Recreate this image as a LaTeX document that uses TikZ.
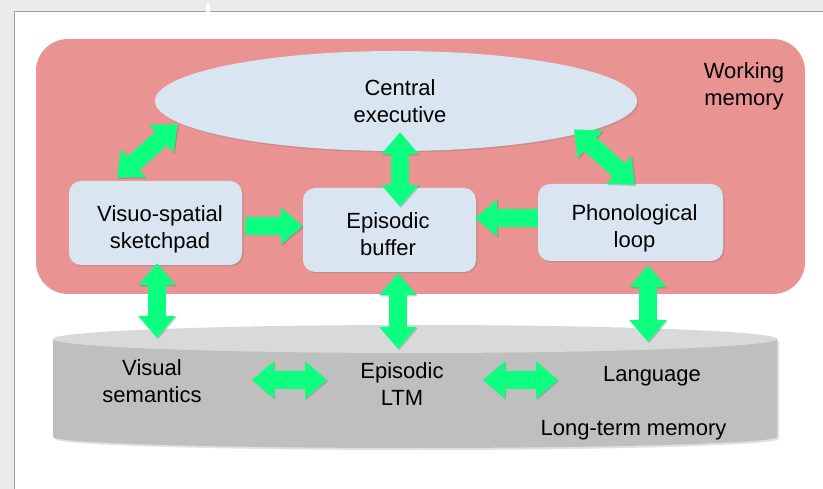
\documentclass[tikz,border=0pt]{standalone}
\usepackage{fontspec}
\setmainfont{Liberation Sans}
\usetikzlibrary{arrows.meta,shadows,shapes.geometric}

\definecolor{wmred}{HTML}{E99393}
\definecolor{boxblue}{HTML}{DAE5F2}
\definecolor{ltmtop}{HTML}{D9D9D9}
\definecolor{ltmside}{HTML}{BFBFBF}
\definecolor{linkgreen}{HTML}{0DFF80}
\definecolor{frameline}{HTML}{A0A0A0}
\definecolor{desk}{HTML}{EBEBEB}

\begin{document}
\begin{tikzpicture}[x=1pt,y=-1pt,
  every node/.style={font=\fontsize{22}{27}\selectfont, align=center, text=black},
  comp/.style={fill=boxblue, rounded corners=12pt, inner sep=0pt,
    drop shadow={shadow xshift=1.5pt, shadow yshift=-1.5pt, opacity=0.35}},
  softshadow/.style={preaction={draw=black!70, opacity=0.25,
    transform canvas={shift={(1.2pt,-1.2pt)}}}},
  link/.style={draw=linkgreen, line width=18pt, softshadow,
    {Triangle[width=36pt,length=22pt]}-{Triangle[width=36pt,length=22pt]}},
  feed/.style={draw=linkgreen, line width=18pt, softshadow,
    -{Triangle[width=36pt,length=22pt]}},
]
\useasboundingbox (0,0) rectangle (823,489);

% page on the desk
\fill[desk] (0,0) rectangle (823,489);
\fill[white] (14,12) rectangle (823,489);
\draw[frameline, line width=1pt] (14,489) -- (14,12) -- (823,12);
\fill[white] (206,4) rectangle (210,12);

% working memory panel
\node[fill=wmred, rounded corners=32pt, minimum width=769pt, minimum height=255pt,
      inner sep=0pt] (wm) at (420.5,166.5) {};
\node (wmlabel) at (744,86) {Working\\memory};

% central executive
\node[ellipse, fill=boxblue, minimum width=482pt, minimum height=100pt, inner sep=0pt,
      drop shadow={shadow xshift=1.5pt, shadow yshift=-1.5pt, opacity=0.3}]
  (ce) at (396,101) {};
\node (celabel) at (400,101) {Central\\executive};

% slave systems
\node[comp, minimum width=173pt, minimum height=84pt] (vs) at (155.5,223) {};
\node (vslabel) at (160,229) {Visuo-spatial\\sketchpad};
\node[comp, minimum width=173pt, minimum height=84pt] (eb) at (389.5,230) {};
\node (eblabel) at (388,234) {Episodic\\buffer};
\node[comp, minimum width=185pt, minimum height=77pt] (pl) at (630.5,222.5) {};
\node (pllabel) at (634.5,228) {Phonological\\loop};

% long-term memory cylinder
\fill[black, opacity=0.12] (55,341) -- (55,439)
  arc[start angle=180, end angle=360, x radius=362pt, y radius=11pt] -- (779,341) -- cycle;
\fill[ltmside] (53,339) -- (53,437)
  arc[start angle=180, end angle=360, x radius=362pt, y radius=11pt] -- (777,339) -- cycle;
\fill[ltmtop] (415,339) ellipse [x radius=362pt, y radius=14pt];

\node (vsem) at (152,381) {Visual\\semantics};
\node (eltm) at (402,384) {Episodic\\LTM};
\node (lang) at (652,376) {Language};
\node (ltm)  at (633.5,430) {Long-term memory};

% connections
\draw[link] ([shift={(-38.5,-3)}]vs.north) -- ([shift={(-3,0.5)}]ce.186);
\draw[link] ([shift={(-14,-2)}]ce.351.5) -- ([shift={(4.5,1)}]pl.north);
\draw[link] ([shift={(4,-19)}]ce.south) -- ([shift={(10.5,19)}]eb.north);
\draw[feed] ([shift={(3,3)}]vs.east) -- ([shift={(0,-4)}]eb.west);
\draw[feed] ([shift={(0,-4.5)}]pl.west) -- ([shift={(-1,-12)}]eb.east);
\draw[link] ([shift={(1.5,-2)}]vs.south) -- ([shift={(5,-43)}]vsem.center);
\draw[link] ([shift={(8.5,1)}]eb.south) -- ([shift={(-4,-35)}]eltm.center);
\draw[link] ([shift={(17.5,4)}]pl.south) -- ([shift={(-4,-34)}]lang.center);
\draw[link] ([shift={(100,-1)}]vsem.center) -- ([shift={(-75,-4)}]eltm.center);
\draw[link] ([shift={(81,-4)}]eltm.center) -- ([shift={(-94,4)}]lang.center);
\end{tikzpicture}
\end{document}
